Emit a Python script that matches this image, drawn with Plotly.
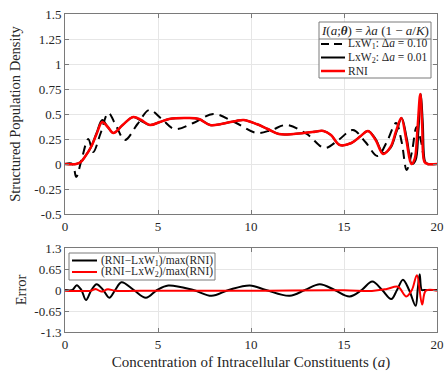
import plotly.graph_objects as go

# ---------------- data ----------------
rni_a = [0, 0.6, 0.85, 1.1, 1.4, 1.7, 2.0, 2.3, 2.6, 3.1, 3.67, 4.1, 4.56, 5.1, 5.6, 6.6, 7.2, 7.8, 8.4,
         8.9, 9.2, 9.6, 10.3, 10.9, 11.5, 12.3, 13.3, 13.9, 14.3, 14.77, 15.4, 15.9, 16.29, 16.7, 17.1,
         17.5, 17.8, 18.08, 18.35, 18.62, 18.8, 18.95, 19.1, 19.2, 19.33, 19.5, 20]
rni_v = [0, 0, 0.02, 0.08, 0.17, 0.30, 0.42, 0.37, 0.31, 0.39, 0.47, 0.44, 0.39, 0.42, 0.45, 0.46, 0.45,
         0.39, 0.40, 0.42, 0.43, 0.44, 0.40, 0.35, 0.30, 0.30, 0.32, 0.33, 0.29, 0.19, 0.21, 0.28, 0.33,
         0.24, 0.10, 0.17, 0.33, 0.46, 0.24, 0.0, 0.05, 0.35, 0.70, 0.40, 0.02, 0, 0]

lxw2_a = [0, 0.6, 0.85, 1.1, 1.4, 1.7, 2.0, 2.3, 2.6, 3.1, 3.67, 4.1, 4.56, 5.1, 5.6, 6.6, 7.2, 7.8, 8.4,
          8.9, 9.2, 9.6, 10.3, 10.9, 11.5, 12.3, 13.3, 13.9, 14.3, 14.77, 15.4, 15.9, 16.29, 16.7, 17.1,
          17.5, 17.82, 18.1, 18.38, 18.65, 18.85, 19.0, 19.13, 19.24, 19.37, 19.52, 20]
lxw2_v = [0, 0, 0.02, 0.08, 0.17, 0.31, 0.44, 0.37, 0.31, 0.39, 0.47, 0.43, 0.39, 0.42, 0.45, 0.46, 0.45,
          0.39, 0.40, 0.42, 0.43, 0.44, 0.40, 0.35, 0.30, 0.30, 0.32, 0.33, 0.29, 0.19, 0.21, 0.28, 0.33,
          0.25, 0.11, 0.16, 0.32, 0.46, 0.25, 0.0, 0.04, 0.33, 0.70, 0.40, 0.02, 0, 0]

lxw1_a = [0, 0.4, 0.6, 0.9, 1.25, 1.52, 1.9, 2.33, 2.75, 3.22, 3.9, 4.53, 5.2, 5.9, 6.9, 7.97, 9.1, 10.3,
          11.1, 11.9, 13.0, 13.96, 14.7, 15.48, 16.15, 16.8, 17.3, 17.8, 18.1, 18.37, 18.65, 18.9, 19.15,
          19.4, 19.6, 20]
lxw1_v = [0, 0, -0.13, 0.05, 0.25, 0.12, 0.30, 0.51, 0.38, 0.24, 0.40, 0.54, 0.45, 0.35, 0.41, 0.50, 0.42,
          0.31, 0.34, 0.39, 0.30, 0.16, 0.24, 0.34, 0.22, 0.08, 0.22, 0.41, 0.22, -0.06, 0.12, 0.37, 0.22,
          0.0, 0, 0]

err1_a = [0, 0.4, 0.63, 0.88, 1.13, 1.42, 1.7, 2.05, 2.38, 2.7, 3.04, 3.7, 4.35, 4.95, 5.55, 6.9, 7.88,
          8.8, 9.94, 10.8, 12.08, 12.9, 13.7, 14.5, 15.3, 15.95, 16.52, 17.05, 17.54, 17.85, 18.17, 18.5,
          18.85, 18.96, 19.07, 19.18, 19.3, 19.5, 20]
err1_v = [0, 0, 0.15, 0, -0.31, 0, 0.18, 0, -0.24, 0, 0.24, 0, -0.24, 0, 0.14, 0, -0.18, 0, 0.14, 0,
          -0.18, 0, 0.18, 0, -0.2, 0, 0.26, 0, -0.28, 0, 0.32, 0, -0.49, 0, 0.49, 0, 0, 0, 0]

err2_a = [0, 1.4, 1.65, 1.95, 2.3, 2.7, 5, 10, 15, 16.5, 17.3, 17.9, 18.35, 18.65, 18.92, 19.2, 19.4, 20]
err2_v = [-0.02, -0.02, 0.03, -0.05, 0.02, -0.02, -0.02, -0.02, -0.01, -0.03, 0.03, 0.10, -0.20, 0.0,
          0.46, -0.45, -0.02, -0.02]

x_ticks = [0, 5, 10, 15, 20]
x_ticktext = ["0", "5", "10", "15", "20"]
top_yticks = [-0.5, -0.25, 0, 0.25, 0.5, 0.75, 1, 1.25, 1.5]
top_yticktext = ["-0.5", "-0.25", "0", "0.25", "0.5", "0.75", "1", "1.25", "1.5"]
bot_yticks = [-1.3, -0.65, 0, 0.65, 1.3]
bot_yticktext = ["-1.3", "-0.65", "0", "0.65", "1.3"]

top_legend_title = "<i>I</i>(<i>a</i>;<b><i>θ</i></b>) = <i>λa</i> (1 − <i>a</i>/<i>K</i>)"
top_names = ["LxW<sub>1</sub>: Δ<i>a</i> = 0.10", "LxW<sub>2</sub>: Δ<i>a</i> = 0.01", "RNI"]
bot_names = ["(RNI−LxW<sub>1</sub>)/max(RNI)", "(RNI−LxW<sub>2</sub>)/max(RNI)"]

FONT = "Liberation Serif"
AX = "#262626"
FRAME = "#7a7a7a"
RED = "#ff0000"

W, H = 445, 371
ML, MR, MT, MB = 65, 8, 14, 39
PW, PH = W - ML - MR, H - MT - MB


def px(x):
    return (x - ML) / PW


def py(y):
    return 1 - (y - MT) / PH


fig = go.Figure()
styles = [dict(color="black", width=2, dash="9px,6px"), dict(color="black", width=2), dict(color=RED, width=2.5)]
for xs, ys, nm, st in zip([lxw1_a, lxw2_a, rni_a], [lxw1_v, lxw2_v, rni_v], top_names, styles):
    fig.add_trace(go.Scatter(x=xs, y=ys, mode="lines", name=nm, showlegend=False,
                             line=dict(shape="spline", smoothing=1.0, **st), xaxis="x", yaxis="y"))
bstyles = [dict(color="black", width=2), dict(color=RED, width=2)]
for xs, ys, nm, st in zip([err1_a, err2_a], [err1_v, err2_v], bot_names, bstyles):
    fig.add_trace(go.Scatter(x=xs, y=ys, mode="lines", name=nm, showlegend=False,
                             line=dict(shape="spline", smoothing=1.0, **st), xaxis="x2", yaxis="y2"))

axis_common = dict(showline=True, linecolor=FRAME, linewidth=1, mirror="allticks", ticks="inside",
                   ticklen=4, tickcolor=FRAME, showgrid=True, gridcolor="#e6e6e6", gridwidth=1,
                   zeroline=False, automargin=False, tickfont=dict(family=FONT, size=13, color=AX))

shapes = []
annotations = []

# --- top legend (manual, compact like the reference) ---
L1, R1, T1, B1, SEP1 = 319, 431, 22, 78, 39
shapes.append(dict(type="rect", xref="paper", yref="paper", x0=px(L1), x1=px(R1), y0=py(B1), y1=py(T1),
                   line=dict(color=FRAME, width=1), fillcolor="white", layer="above"))
shapes.append(dict(type="line", xref="paper", yref="paper", x0=px(L1), x1=px(R1), y0=py(SEP1), y1=py(SEP1),
                   line=dict(color=FRAME, width=1), layer="above"))
annotations.append(dict(text=top_legend_title, xref="paper", yref="paper", x=px((L1 + R1) / 2), y=py(30.5),
                        xanchor="center", yanchor="middle", showarrow=False,
                        font=dict(family=FONT, size=13, color=AX)))
rows1 = [44, 57.5, 71]
sample_styles = [dict(color="black", width=2, dash="8px,5px"), dict(color="black", width=2),
                 dict(color=RED, width=2.5)]
for yy, nm, st in zip(rows1, top_names, sample_styles):
    shapes.append(dict(type="line", xref="paper", yref="paper", x0=px(321), x1=px(345), y0=py(yy), y1=py(yy),
                       line=st, layer="above"))
    annotations.append(dict(text=nm, xref="paper", yref="paper", x=px(346), y=py(yy), xanchor="left",
                            yanchor="middle", showarrow=False, font=dict(family=FONT, size=11.5, color=AX)))

# --- bottom legend ---
L2, R2, T2, B2 = 69, 215, 253, 280
shapes.append(dict(type="rect", xref="paper", yref="paper", x0=px(L2), x1=px(R2), y0=py(B2), y1=py(T2),
                   line=dict(color=FRAME, width=1), fillcolor="white", layer="above"))
rows2 = [260.5, 272]
for yy, nm, st in zip(rows2, bot_names, bstyles):
    shapes.append(dict(type="line", xref="paper", yref="paper", x0=px(72), x1=px(97), y0=py(yy), y1=py(yy),
                       line=st, layer="above"))
    annotations.append(dict(text=nm, xref="paper", yref="paper", x=px(98.5), y=py(yy), xanchor="left",
                            yanchor="middle", showarrow=False, font=dict(family=FONT, size=11.5, color=AX)))

fig.update_layout(
    template="none",
    width=W, height=H,
    margin=dict(l=ML, r=MR, t=MT, b=MB),
    paper_bgcolor="white", plot_bgcolor="white",
    font=dict(family=FONT, color=AX),
    showlegend=False,
    xaxis=dict(domain=[0, 1], range=[0, 20], tickvals=x_ticks, ticktext=x_ticktext, anchor="y", **axis_common),
    yaxis=dict(domain=[py(214), 1], range=[-0.5, 1.5], tickvals=top_yticks, ticktext=top_yticktext, anchor="x",
               title=dict(text="Structured Population Density", font=dict(family=FONT, size=14.5, color=AX),
                          standoff=10),
               **axis_common),
    xaxis2=dict(domain=[0, 1], range=[0, 20], tickvals=x_ticks, ticktext=x_ticktext, anchor="y2",
                title=dict(text="Concentration of Intracellular Constituents (<i>a</i>)",
                           font=dict(family=FONT, size=15, color=AX), standoff=12),
                **axis_common),
    yaxis2=dict(domain=[0, py(248)], range=[-1.3, 1.3], tickvals=bot_yticks, ticktext=bot_yticktext, anchor="x2",
                title=dict(text="Error", font=dict(family=FONT, size=14.5, color=AX), standoff=4),
                **axis_common),
    shapes=shapes,
    annotations=annotations,
)

fig.write_html("out.html")
